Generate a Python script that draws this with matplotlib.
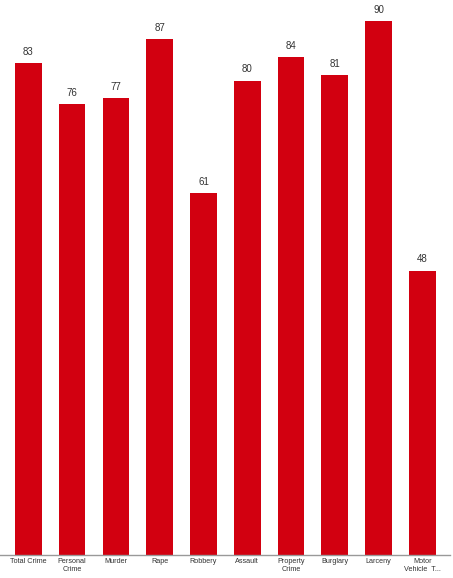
import matplotlib
matplotlib.use('Agg')
import matplotlib.pyplot as plt
import numpy as np

categories = ['Total Crime', 'Personal\nCrime', 'Murder', 'Rape', 'Robbery',
              'Assault', 'Property\nCrime', 'Burglary', 'Larceny', 'Motor\nVehicle  T...']
values = [83, 76, 77, 87, 61, 80, 84, 81, 90, 48]

W, H = 453, 578
fig = plt.figure(figsize=(W / 100, H / 100), dpi=100)
# axes box in pixels: x 0..450, baseline at y=555
ax = fig.add_axes([0, (H - 555.3) / H, 450 / W, 555.3 / H])

x = np.arange(len(values))
ax.bar(x, values, width=0.61, color='#d20010')
for xi, v in zip(x, values):
    ax.annotate(str(v), (xi, v), xytext=(0, 4.5), textcoords='offset points',
                ha='center', va='bottom', fontsize=7, color='#333333',
                family='Liberation Sans')

ax.set_xlim(-0.646, 9.63)
ax.set_ylim(0, 93.6)
ax.set_xticks(x)
ax.set_xticklabels(categories, fontsize=5.2, color='#333333',
                   family='Liberation Sans', linespacing=1.1)
ax.tick_params(axis='x', length=0, pad=2)
ax.set_yticks([])
for s in ['top', 'right', 'left']:
    ax.spines[s].set_visible(False)
ax.spines['bottom'].set_color('#999999')
ax.spines['bottom'].set_linewidth(1.0)

fig.savefig('out.png', dpi=100)
